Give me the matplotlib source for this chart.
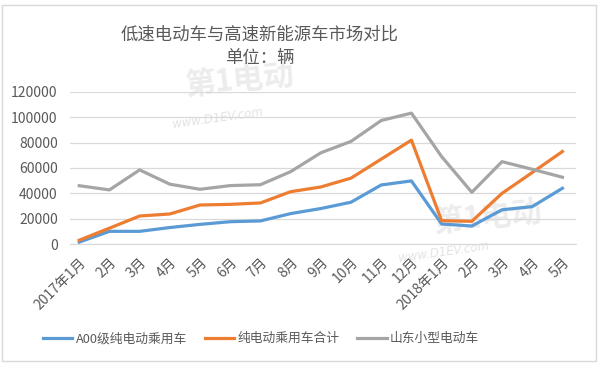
import matplotlib.pyplot as plt
from matplotlib.patches import Rectangle

plt.rcParams['font.family'] = ['Noto Sans CJK SC', 'DejaVu Sans']

months = ['2017年1月', '2月', '3月', '4月', '5月', '6月', '7月', '8月', '9月',
          '10月', '11月', '12月', '2018年1月', '2月', '3月', '4月', '5月']

a00 = [1500, 10000, 10000, 13000, 15500, 17600, 18200, 24000, 28000,
       33000, 46600, 49800, 15800, 14200, 27000, 29500, 44000]
bev_total = [3000, 12500, 22100, 23700, 30800, 31300, 32400, 41300, 45000,
             52000, 67000, 82000, 18400, 17900, 40000, 56400, 73000]
shandong = [46000, 42700, 58500, 47200, 43200, 46100, 46800, 57100, 72000,
            81000, 97500, 103300, 69000, 40800, 65000, 59000, 52700]

labels = ['A00级纯电动乘用车', '纯电动乘用车合计', '山东小型电动车']
colors = ['#5B9BD5', '#ED7D31', '#A5A5A5']
grey = '#595959'

fig = plt.figure(figsize=(6, 3.65), dpi=100)
ax = fig.add_axes([0.117, 0.3315, 0.843, 0.4165])
ax.set_zorder(2)
ax.patch.set_alpha(0)

# faint watermark (behind the chart)
for (wx, wy, ux, uy) in [(0.40, 0.78, 0.363, 0.675), (0.813, 0.405, 0.74, 0.31)]:
    fig.text(wx, wy, '第1电动', ha='center', va='center', fontsize=22,
             fontweight='bold', color='#ECECEC', rotation=6, zorder=0)
    fig.text(ux, uy, 'www.D1EV.com', ha='center', va='center',
             fontsize=8.5, style='italic', color='#E3E3E3', rotation=8, zorder=0,
             family='DejaVu Sans')

x = list(range(len(months)))
for vals, lab, col in zip([a00, bev_total, shandong], labels, colors):
    ax.plot(x, vals, color=col, lw=2.3, label=lab, solid_joinstyle='round')

ax.set_ylim(0, 120000)
ax.set_xlim(-0.3, 16.45)
ax.set_yticks(range(0, 120001, 20000))
ax.set_xticks(x)
ax.set_xticklabels(months, rotation=45, ha='right', va='top',
                   rotation_mode='anchor')
ax.tick_params(length=0, labelsize=10, labelcolor=grey)
ax.tick_params(axis='y', pad=9)
ax.tick_params(axis='x', pad=8)
ax.grid(axis='y', color='#D9D9D9', lw=0.9)
ax.set_axisbelow(True)
for s in ['top', 'right', 'left']:
    ax.spines[s].set_visible(False)
ax.spines['bottom'].set_color('#D9D9D9')

fig.text(0.433, 0.905, '低速电动车与高速新能源车市场对比', ha='center', va='center',
         fontsize=12.5, color=grey, zorder=3)
fig.text(0.433, 0.84, '单位：辆', ha='center', va='center',
         fontsize=12.5, color=grey, zorder=3)

fig.legend(loc='center', bbox_to_anchor=(0.435, 0.072), ncol=3, frameon=False,
           prop={'size': 9.2}, labelcolor=grey, handlelength=2.3,
           columnspacing=1.4, handletextpad=0.25)

fig.patches.append(Rectangle((0.004, 0.01), 0.99, 0.975, transform=fig.transFigure,
                             fill=False, edgecolor='#D9D9D9', lw=1))

fig.savefig('out.png', dpi=100)
